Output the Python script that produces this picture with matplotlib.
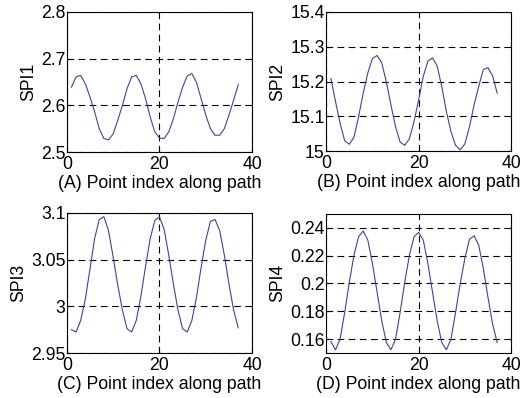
import numpy as np
from matplotlib import pyplot as plt

plt.rcParams['font.family'] = ['Liberation Sans', 'DejaVu Sans']

idx = list(range(1, 38))

spi1 = [2.639, 2.661, 2.664, 2.646, 2.618, 2.586, 2.550, 2.529, 2.526, 2.539,
        2.568, 2.600, 2.636, 2.661, 2.664, 2.646, 2.614, 2.575, 2.543, 2.530,
        2.529, 2.543, 2.571, 2.607, 2.639, 2.663, 2.668, 2.649, 2.614, 2.579,
        2.550, 2.536, 2.536, 2.550, 2.579, 2.611, 2.644]

spi2 = [15.209, 15.143, 15.080, 15.030, 15.020, 15.040, 15.099, 15.167, 15.225, 15.266,
        15.275, 15.254, 15.200, 15.133, 15.070, 15.026, 15.017, 15.036, 15.085, 15.148,
        15.215, 15.259, 15.268, 15.245, 15.186, 15.114, 15.056, 15.017, 15.004, 15.021,
        15.070, 15.133, 15.186, 15.235, 15.240, 15.217, 15.167]

spi3 = [2.975, 2.9725, 2.985, 3.008, 3.040, 3.0725, 3.093, 3.096, 3.081, 3.053,
        3.0225, 2.996, 2.976, 2.9725, 2.985, 3.011, 3.043, 3.0725, 3.092, 3.096,
        3.0825, 3.055, 3.024, 2.996, 2.976, 2.9725, 2.985, 3.010, 3.042, 3.071,
        3.091, 3.093, 3.081, 3.055, 3.024, 2.996, 2.977]

spi4 = [0.1583, 0.1523, 0.1600, 0.1793, 0.2010, 0.2202, 0.2335, 0.2376, 0.2311, 0.2142,
        0.1937, 0.1733, 0.1576, 0.1523, 0.1600, 0.1793, 0.2010, 0.2202, 0.2335, 0.2366,
        0.2311, 0.2142, 0.1937, 0.1733, 0.1576, 0.1523, 0.1600, 0.1793, 0.1998, 0.2178,
        0.2316, 0.2342, 0.2275, 0.2106, 0.1901, 0.1709, 0.1576]

panels = [
    (spi1, 'SPI1', '(A) Point index along path', (2.5, 2.8), [2.5, 2.6, 2.7, 2.8], ['2.5', '2.6', '2.7', '2.8']),
    (spi2, 'SPI2', '(B) Point index along path', (15.0, 15.4), [15.0, 15.1, 15.2, 15.3, 15.4], ['15', '15.1', '15.2', '15.3', '15.4']),
    (spi3, 'SPI3', '(C) Point index along path', (2.95, 3.1), [2.95, 3.0, 3.05, 3.1], ['2.95', '3', '3.05', '3.1']),
    (spi4, 'SPI4', '(D) Point index along path', (0.15, 0.25), [0.16, 0.18, 0.2, 0.22, 0.24], ['0.16', '0.18', '0.2', '0.22', '0.24']),
]

# axes boxes in figure fractions: left, bottom, width, height
boxes = [
    [0.128, 0.618, 0.355, 0.352],
    [0.625, 0.620, 0.354, 0.350],
    [0.128, 0.113, 0.355, 0.352],
    [0.625, 0.113, 0.354, 0.350],
]

fig = plt.figure(figsize=(5.22, 3.98), dpi=100)

fs = 12.7
for (vals, ylab, xlab, ylim, yt, ytl), box in zip(panels, boxes):
    ax = fig.add_axes(box)
    ax.plot(idx, vals, color='#4040a8', linewidth=0.8)
    ax.set_xlim(0, 40)
    ax.set_ylim(*ylim)
    ax.set_xticks([0, 20, 40])
    ax.set_yticks(yt)
    ax.set_yticklabels(ytl)
    ax.grid(True, color='black', linestyle=(0, (6, 4)), linewidth=0.8)
    ax.tick_params(direction='in', length=3, labelsize=fs)
    ax.tick_params(axis='x', pad=3)
    ax.tick_params(axis='y', pad=1)
    ax.set_ylabel(ylab, fontsize=fs, labelpad=3)
    ax.set_xlabel(xlab, fontsize=fs, labelpad=1)
    for s in ax.spines.values():
        s.set_linewidth(0.8)

fig.savefig('out.png', dpi=100)
